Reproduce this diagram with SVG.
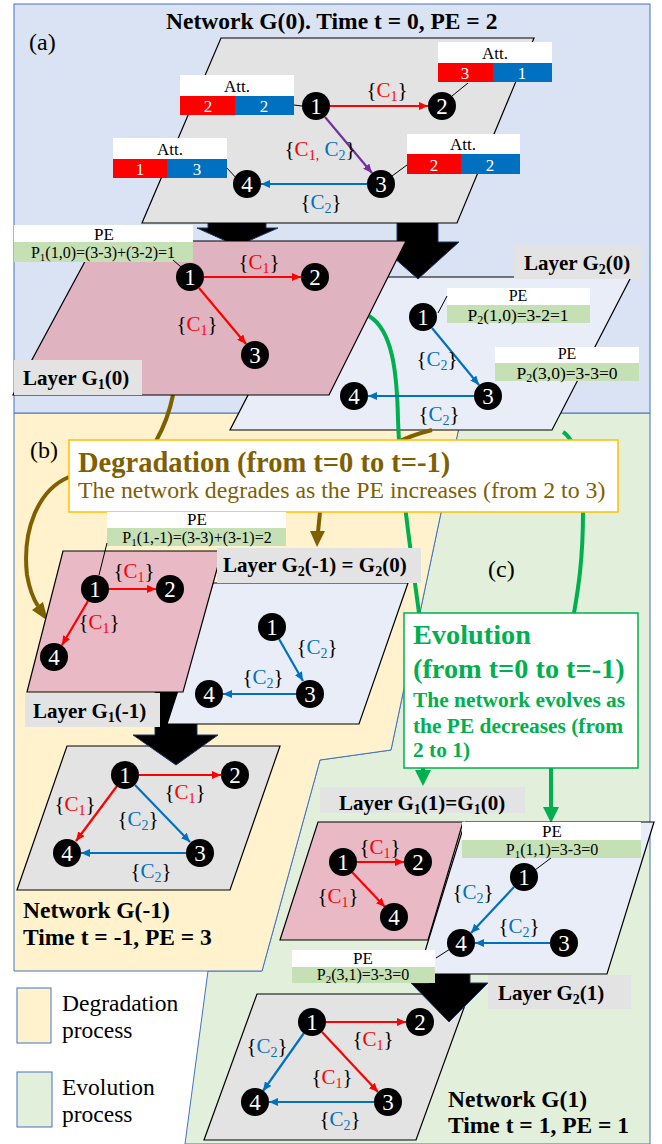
<svg xmlns="http://www.w3.org/2000/svg" width="662" height="1144" viewBox="0 0 662 1144">
<defs>
<style>
text{font-family:"Liberation Serif","Times New Roman",serif}
.nt{fill:#fff;font-size:23px;text-anchor:middle}
.el{font-size:21px;text-anchor:middle;fill:#000}
.r{fill:#f00}
.b{fill:#0070c0}
.sb{font-size:14px}
.ly{stroke:#000;stroke-width:1.2}
.gr{fill:#e3e3e3}
.pk{fill:#dfb4c0}
.pk2{fill:#e9bac6}
.lv{fill:#e9edf7}
.lab{fill:#e3e3e3}
.lt{font-size:21px;font-weight:bold}
.lts{font-size:14px;font-weight:bold}
.er{stroke:#f00;stroke-width:2.2;fill:none;marker-end:url(#ar)}
.eb{stroke:#0070c0;stroke-width:2.2;fill:none;marker-end:url(#ab)}
.ep{stroke:#7030a0;stroke-width:2.2;fill:none;marker-end:url(#ap)}
.pe{font-size:17px;text-anchor:middle}
.pf{font-size:16px;text-anchor:middle}
.pe2{font-size:16px;text-anchor:middle}
.pf2{font-size:17.5px;text-anchor:middle}
.peg{fill:#c5e0b4}
.att{font-size:17px;text-anchor:middle}
.big{fill:#000;stroke:#203864;stroke-width:1}
.lk{stroke:#000;stroke-width:1;fill:none}
.gc{stroke:#00b050;stroke-width:4;fill:none}
.bc{stroke:#7f6000;stroke-width:4;fill:none}
.reg{stroke:#4472c4;stroke-width:1}
.ttl{font-size:23.5px;font-weight:bold}
</style>
<marker id="ar" markerUnits="userSpaceOnUse" markerWidth="9" markerHeight="8" refX="9" refY="4" orient="auto"><path d="M0,0L9,4L0,8z" fill="#f00"/></marker>
<marker id="ab" markerUnits="userSpaceOnUse" markerWidth="9" markerHeight="8" refX="9" refY="4" orient="auto"><path d="M0,0L9,4L0,8z" fill="#0070c0"/></marker>
<marker id="ap" markerUnits="userSpaceOnUse" markerWidth="9" markerHeight="8" refX="9" refY="4" orient="auto"><path d="M0,0L9,4L0,8z" fill="#7030a0"/></marker>
</defs>

<!-- background regions -->
<g id="regions">
<path class="reg" fill="#e2efda" d="M462,413L650,413L650,1144L185,1144L208,971L262,971L320,760L391,750Z"/>
<path class="reg" fill="#fff2cc" d="M14,413L462,413L391,750L320,760L262,971L14,971Z"/>
<rect class="reg" x="14" y="4" width="636" height="409" fill="#dae3f3"/>
</g>

<g id="legend">
<rect class="reg" x="17" y="988" width="34" height="55" fill="#fff2cc"/>
<rect class="reg" x="17" y="1072" width="35" height="55" fill="#e2efda"/>
<text x="62" y="1011" font-size="23.5">Degradation</text>
<text x="62" y="1038" font-size="23.5">process</text>
<text x="62" y="1095" font-size="23.5">Evolution</text>
<text x="62" y="1122" font-size="23.5">process</text>
</g>

<text x="29" y="50" font-size="24">(a)</text>
<text x="30" y="458" font-size="24">(b)</text>
<text x="488" y="577" font-size="24">(c)</text>

<!-- Layer G2(0) -->
<g id="layerG2_0">
<polygon class="ly lv" points="309,277 631,277 552,430 230,430"/>
</g>

<g id="curves">
<path class="gc" d="M369,316C392,330 397,370 398,420C400,480 412,560 419,613"/>
<path class="gc" d="M563,432C576,440 583,470 583,513C583,560 578,590 574,613"/>
<path class="bc" d="M173,395C170,410 165,425 156,441"/>
<path class="bc" d="M432,430C420,433 410,436 398,442"/>
<path class="bc" d="M69,477C38,490 22,530 27,575C30,592 34,600 38,606"/>
<polygon fill="#7f6000" points="32,610 43,602 48,621"/>
<path class="bc" d="M320,512L318,532"/>
<polygon fill="#7f6000" points="310,531 325,531 317,547"/>
<path class="gc" d="M423,768L423,772"/>
<polygon fill="#00b050" points="415,770 431,770 423,786"/>
<path class="gc" d="M551,768L551,808"/>
<polygon fill="#00b050" points="543,807 559,807 551,823"/>
</g>

<g id="bigarrows-top">
<polygon class="big" points="208,200 266,200 266,228 278,228 237,246 197,228 208,228"/>
<polygon class="big" points="397,200 438,200 438,242 459,242 418,279 376,242 397,242"/>
</g>

<!-- Layer G1(0) -->
<g id="layerG1_0">
<polygon class="ly pk" points="96,241 406,241 329,395 13,395"/>
</g>

<!-- Network G(0) -->
<g id="networkG0">
<polygon class="ly gr" points="221,38 534,38 457,223 142,223"/>
</g>
<text class="ttl" x="166" y="29">Network G(0). Time t = 0, PE = 2</text>

<!-- G(0) attributes -->
<g id="att1">
<rect x="180" y="75" width="114" height="21" fill="#fff"/>
<rect x="180" y="96" width="55" height="19" fill="#f00"/>
<rect x="235" y="96" width="59" height="19" fill="#0070c0"/>
<text class="att" x="237" y="92">Att.</text>
<text class="att" x="208" y="112" fill="#fff">2</text>
<text class="att" x="264" y="112" fill="#fff">2</text>
<line class="lk" x1="294" y1="105" x2="302" y2="106"/>
</g>
<g id="att4">
<rect x="113" y="138" width="114" height="21" fill="#fff"/>
<rect x="113" y="159" width="54" height="19" fill="#f00"/>
<rect x="167" y="159" width="60" height="19" fill="#0070c0"/>
<text class="att" x="170" y="155">Att.</text>
<text class="att" x="140" y="175" fill="#fff">1</text>
<text class="att" x="197" y="175" fill="#fff">3</text>
<line class="lk" x1="227" y1="168" x2="238" y2="180"/>
</g>
<g id="att2">
<rect x="438" y="42" width="114" height="21" fill="#fff"/>
<rect x="438" y="63" width="55" height="19" fill="#f00"/>
<rect x="493" y="63" width="59" height="19" fill="#0070c0"/>
<text class="att" x="495" y="59">Att.</text>
<text class="att" x="465" y="79" fill="#fff">3</text>
<text class="att" x="522" y="79" fill="#fff">1</text>
<line class="lk" x1="468" y1="83" x2="452" y2="96"/>
</g>
<g id="att3">
<rect x="407" y="134" width="113" height="20" fill="#fff"/>
<rect x="407" y="154" width="54" height="20" fill="#f00"/>
<rect x="461" y="154" width="59" height="20" fill="#0070c0"/>
<text class="att" x="463" y="150">Att.</text>
<text class="att" x="434" y="171" fill="#fff">2</text>
<text class="att" x="490" y="171" fill="#fff">2</text>
<line class="lk" x1="407" y1="165" x2="392" y2="176"/>
</g>

<!-- PE boxes top -->
<g id="pe-g1-0">
<rect x="14" y="225" width="179" height="17" fill="#fff"/>
<rect class="peg" x="14" y="242" width="179" height="20"/>
<text class="pe" x="104" y="240">PE</text>
<text class="pf" x="103" y="258">P<tspan font-size="11" dy="3">1</tspan><tspan dy="-3">(1,0)=(3-3)+(3-2)=1</tspan></text>
<line class="lk" x1="173" y1="260" x2="181" y2="267"/>
</g>
<g id="pe-g2-0a">
<rect x="447" y="288" width="143" height="17" fill="#fff"/>
<rect class="peg" x="447" y="305" width="143" height="18"/>
<text class="pe2" x="518" y="301">PE</text>
<text class="pf2" x="518" y="321">P<tspan font-size="12" dy="3">2</tspan><tspan dy="-3">(1,0)=3-2=1</tspan></text>
<line class="lk" x1="438" y1="313" x2="447" y2="296"/>
</g>
<g id="pe-g2-0b">
<rect x="495" y="347" width="144" height="16" fill="#fff"/>
<rect class="peg" x="495" y="363" width="144" height="18"/>
<text class="pe2" x="567" y="359">PE</text>
<text class="pf2" x="567" y="379">P<tspan font-size="12" dy="3">2</tspan><tspan dy="-3">(3,0)=3-3=0</tspan></text>
</g>

<!-- Layer labels top -->
<g id="lbl-g1-0"><rect class="lab" x="14" y="360" width="128" height="35"/><text class="lt" x="23" y="385">Layer G<tspan class="lts" dy="4">1</tspan><tspan dy="-4">(0)</tspan></text></g>
<g id="lbl-g2-0"><rect class="lab" x="514" y="245" width="127" height="34"/><text class="lt" x="524" y="270">Layer G<tspan class="lts" dy="4">2</tspan><tspan dy="-4">(0)</tspan></text></g>

<!-- connectors (edges) -->
<g id="connectors">
<line class="er" x1="330" y1="106" x2="428" y2="106"/>
<line class="ep" x1="325" y1="117" x2="372" y2="173"/>
<line class="eb" x1="367" y1="184" x2="261" y2="184"/>
<line class="er" x1="204" y1="277" x2="301" y2="277"/>
<line class="er" x1="199" y1="288" x2="246" y2="344"/>
<line class="eb" x1="432" y1="328" x2="479" y2="385"/>
<line class="eb" x1="474" y1="396" x2="368" y2="396"/>
</g>

<g id="edge-labels-top">
<text class="el" x="387" y="97">{<tspan class="r">C</tspan><tspan class="r sb" dy="4">1</tspan><tspan dy="-4">}</tspan></text>
<text class="el" x="320" y="156">{<tspan class="r">C</tspan><tspan class="r sb" dy="4">1,</tspan><tspan class="b" dy="-4"> C</tspan><tspan class="b sb" dy="4">2</tspan><tspan dy="-4">}</tspan></text>
<text class="el" x="321" y="209">{<tspan class="b">C</tspan><tspan class="b sb" dy="4">2</tspan><tspan dy="-4">}</tspan></text>
<text class="el" x="259" y="269">{<tspan class="r">C</tspan><tspan class="r sb" dy="4">1</tspan><tspan dy="-4">}</tspan></text>
<text class="el" x="197" y="331">{<tspan class="r">C</tspan><tspan class="r sb" dy="4">1</tspan><tspan dy="-4">}</tspan></text>
<text class="el" x="437" y="366">{<tspan class="b">C</tspan><tspan class="b sb" dy="4">2</tspan><tspan dy="-4">}</tspan></text>
<text class="el" x="439" y="421">{<tspan class="b">C</tspan><tspan class="b sb" dy="4">2</tspan><tspan dy="-4">}</tspan></text>
</g>

<!-- nodes top -->
<g id="g0-n1"><circle cx="316" cy="106" r="14"/><text class="nt" x="316" y="114">1</text></g>
<g id="g0-n2"><circle cx="442" cy="106" r="14"/><text class="nt" x="442" y="114">2</text></g>
<g id="g0-n3"><circle cx="381" cy="184" r="14"/><text class="nt" x="381" y="192">3</text></g>
<g id="g0-n4"><circle cx="247" cy="184" r="14"/><text class="nt" x="247" y="192">4</text></g>
<g id="g10-n1"><circle cx="190" cy="277" r="14"/><text class="nt" x="190" y="285">1</text></g>
<g id="g10-n2"><circle cx="315" cy="277" r="14"/><text class="nt" x="315" y="285">2</text></g>
<g id="g10-n3"><circle cx="255" cy="355" r="14"/><text class="nt" x="255" y="363">3</text></g>
<g id="g20-n1"><circle cx="423" cy="317" r="14"/><text class="nt" x="423" y="325">1</text></g>
<g id="g20-n3"><circle cx="488" cy="396" r="14"/><text class="nt" x="488" y="404">3</text></g>
<g id="g20-n4"><circle cx="354" cy="396" r="14"/><text class="nt" x="354" y="404">4</text></g>

<!-- Degradation box -->
<g id="degradation">
<rect x="69" y="440" width="549" height="72" fill="#fff" stroke="#ffc000" stroke-width="1.5"/>
<text x="78" y="472" font-size="28.5" font-weight="bold" fill="#7f6000">Degradation (from t=0 to t=-1)</text>
<text x="78" y="498" font-size="23.8" fill="#7f6000">The network degrades as the PE increases (from 2 to 3)</text>
</g>

<!-- Evolution box -->
<g id="evolution">
<rect x="404" y="613" width="234" height="155" fill="#fff" stroke="#00b050" stroke-width="1.5"/>
<text x="413" y="644" font-size="28.3" font-weight="bold" fill="#00b050">Evolution</text>
<text x="413" y="678" font-size="28.3" font-weight="bold" fill="#00b050">(from t=0 to t=-1)</text>
<text x="413" y="707" font-size="21.4" font-weight="bold" fill="#00b050">The network evolves as</text>
<text x="413" y="733" font-size="21.4" font-weight="bold" fill="#00b050">the PE decreases (from</text>
<text x="413" y="757" font-size="21.4" font-weight="bold" fill="#00b050">2 to 1)</text>
</g>

<!-- Middle section: G(-1) -->
<g id="networkGm1"><polygon class="ly gr" points="67,746 280,746 230,890 17,890"/></g>
<polygon class="big" points="155,690 197,690 197,735 218,735 176,765 133,735 155,735"/>
<g id="layerG2_m1"><polygon class="ly lv" points="213,583 408,583 359,724 167,724"/></g>
<g id="layerG1_m1"><polygon class="ly pk2" points="63,551 222,551 183,692 27,692"/></g>

<g id="lbl-g2-m1"><rect class="lab" x="217" y="548" width="204" height="35"/><text class="lt" x="223" y="572">Layer G<tspan class="lts" dy="4">2</tspan><tspan dy="-4">(-1) = G</tspan><tspan class="lts" dy="4">2</tspan><tspan dy="-4">(0)</tspan></text></g>
<g id="lbl-g1-m1"><rect class="lab" x="25" y="693" width="135" height="34"/><text class="lt" x="33" y="718">Layer G<tspan class="lts" dy="4">1</tspan><tspan dy="-4">(-1)</tspan></text></g>

<g id="pe-g1-m1">
<rect x="107" y="512" width="179" height="16" fill="#fff"/>
<rect class="peg" x="107" y="528" width="179" height="18"/>
<text class="pe" x="197" y="525">PE</text>
<text class="pf" x="197" y="543">P<tspan font-size="11" dy="3">1</tspan><tspan dy="-3">(1,-1)=(3-3)+(3-1)=2</tspan></text>
<line class="lk" x1="107" y1="543" x2="99" y2="575"/>
</g>

<g id="connectors-mid">
<line class="er" x1="109" y1="589" x2="156" y2="589"/>
<line class="er" x1="88" y1="601" x2="62" y2="645"/>
<line class="eb" x1="279" y1="639" x2="303" y2="681"/>
<line class="eb" x1="296" y1="694" x2="223" y2="694"/>
<line class="er" x1="139" y1="775" x2="221" y2="775"/>
<line class="er" x1="117" y1="786" x2="76" y2="841"/>
<line class="eb" x1="135" y1="785" x2="190" y2="842"/>
<line class="eb" x1="186" y1="853" x2="81" y2="853"/>
</g>
<g id="edge-labels-mid">
<text class="el" x="134" y="578">{<tspan class="r">C</tspan><tspan class="r sb" dy="4">1</tspan><tspan dy="-4">}</tspan></text>
<text class="el" x="99" y="629">{<tspan class="r">C</tspan><tspan class="r sb" dy="4">1</tspan><tspan dy="-4">}</tspan></text>
<text class="el" x="317" y="654">{<tspan class="b">C</tspan><tspan class="b sb" dy="4">2</tspan><tspan dy="-4">}</tspan></text>
<text class="el" x="263" y="684">{<tspan class="b">C</tspan><tspan class="b sb" dy="4">2</tspan><tspan dy="-4">}</tspan></text>
<text class="el" x="185" y="799">{<tspan class="r">C</tspan><tspan class="r sb" dy="4">1</tspan><tspan dy="-4">}</tspan></text>
<text class="el" x="75" y="811">{<tspan class="r">C</tspan><tspan class="r sb" dy="4">1</tspan><tspan dy="-4">}</tspan></text>
<text class="el" x="138" y="826">{<tspan class="b">C</tspan><tspan class="b sb" dy="4">2</tspan><tspan dy="-4">}</tspan></text>
<text class="el" x="151" y="878">{<tspan class="b">C</tspan><tspan class="b sb" dy="4">2</tspan><tspan dy="-4">}</tspan></text>
</g>
<g id="g1m1-n1"><circle cx="95" cy="589" r="14"/><text class="nt" x="95" y="597">1</text></g>
<g id="g1m1-n2"><circle cx="170" cy="589" r="14"/><text class="nt" x="170" y="597">2</text></g>
<g id="g1m1-n4"><circle cx="54" cy="657" r="14"/><text class="nt" x="54" y="665">4</text></g>
<g id="g2m1-n1"><circle cx="272" cy="627" r="14"/><text class="nt" x="272" y="635">1</text></g>
<g id="g2m1-n3"><circle cx="310" cy="694" r="14"/><text class="nt" x="310" y="702">3</text></g>
<g id="g2m1-n4"><circle cx="209" cy="694" r="14"/><text class="nt" x="209" y="702">4</text></g>
<g id="gm1-n1"><circle cx="125" cy="775" r="14"/><text class="nt" x="125" y="783">1</text></g>
<g id="gm1-n2"><circle cx="235" cy="775" r="14"/><text class="nt" x="235" y="783">2</text></g>
<g id="gm1-n3"><circle cx="200" cy="853" r="14"/><text class="nt" x="200" y="861">3</text></g>
<g id="gm1-n4"><circle cx="67" cy="853" r="14"/><text class="nt" x="67" y="861">4</text></g>
<text class="ttl" x="23" y="918">Network G(-1)</text>
<text class="ttl" x="23" y="945">Time t = -1, PE = 3</text>

<!-- Bottom section: G(1) -->
<g id="networkG1"><polygon class="ly gr" points="257,994 469,994 416,1140 204,1140"/></g>
<polygon class="big" points="429,940 470,940 470,983 488,983 449,1022 411,983 429,983"/>
<g id="layerG1_1"><polygon class="ly pk2" points="318,822 463,822 428,940 280,940"/></g>
<g id="layerG2_1"><polygon class="ly lv" points="465,822 654,822 607,974 418,974"/></g>

<g id="lbl-g1-1"><rect class="lab" x="320" y="787" width="205" height="26"/><text class="lt" x="339" y="810">Layer G<tspan class="lts" dy="4">1</tspan><tspan dy="-4">(1)=G</tspan><tspan class="lts" dy="4">1</tspan><tspan dy="-4">(0)</tspan></text></g>
<g id="lbl-g2-1"><rect class="lab" x="488" y="975" width="143" height="34"/><text class="lt" x="498" y="1000">Layer G<tspan class="lts" dy="4">2</tspan><tspan dy="-4">(1)</tspan></text></g>

<g id="pe-g2-1">
<rect x="462" y="822" width="179" height="18" fill="#fff"/>
<rect class="peg" x="462" y="840" width="179" height="18"/>
<text class="pe" x="552" y="837">PE</text>
<text class="pf" x="552" y="855">P<tspan font-size="11" dy="3">1</tspan><tspan dy="-3">(1,1)=3-3=0</tspan></text>
<line class="lk" x1="551" y1="858" x2="535" y2="870"/>
</g>
<g id="pe-g-1">
<rect x="292" y="950" width="143" height="17" fill="#fff"/>
<rect class="peg" x="292" y="967" width="143" height="16"/>
<text class="pe" x="363" y="964">PE</text>
<text class="pf" x="363" y="980">P<tspan font-size="11" dy="3">2</tspan><tspan dy="-3">(3,1)=3-3=0</tspan></text>
<line class="lk" x1="436" y1="958" x2="450" y2="949"/>
</g>

<g id="connectors-bot">
<line class="er" x1="357" y1="862" x2="404" y2="862"/>
<line class="er" x1="352" y1="872" x2="385" y2="907"/>
<line class="eb" x1="514" y1="887" x2="471" y2="933"/>
<line class="eb" x1="550" y1="943" x2="475" y2="943"/>
<line class="er" x1="326" y1="1022" x2="406" y2="1022"/>
<line class="er" x1="322" y1="1032" x2="378" y2="1092"/>
<line class="eb" x1="304" y1="1033" x2="263" y2="1091"/>
<line class="eb" x1="374" y1="1102" x2="269" y2="1102"/>
</g>
<g id="edge-labels-bot">
<text class="el" x="380" y="854">{<tspan class="r">C</tspan><tspan class="r sb" dy="4">1</tspan><tspan dy="-4">}</tspan></text>
<text class="el" x="338" y="903">{<tspan class="r">C</tspan><tspan class="r sb" dy="4">1</tspan><tspan dy="-4">}</tspan></text>
<text class="el" x="473" y="899">{<tspan class="b">C</tspan><tspan class="b sb" dy="4">2</tspan><tspan dy="-4">}</tspan></text>
<text class="el" x="519" y="933">{<tspan class="b">C</tspan><tspan class="b sb" dy="4">2</tspan><tspan dy="-4">}</tspan></text>
<text class="el" x="373" y="1046">{<tspan class="r">C</tspan><tspan class="r sb" dy="4">1</tspan><tspan dy="-4">}</tspan></text>
<text class="el" x="332" y="1084">{<tspan class="r">C</tspan><tspan class="r sb" dy="4">1</tspan><tspan dy="-4">}</tspan></text>
<text class="el" x="267" y="1053">{<tspan class="b">C</tspan><tspan class="b sb" dy="4">2</tspan><tspan dy="-4">}</tspan></text>
<text class="el" x="340" y="1126">{<tspan class="b">C</tspan><tspan class="b sb" dy="4">2</tspan><tspan dy="-4">}</tspan></text>
</g>
<g id="g11-n1"><circle cx="343" cy="862" r="14"/><text class="nt" x="343" y="870">1</text></g>
<g id="g11-n2"><circle cx="418" cy="862" r="14"/><text class="nt" x="418" y="870">2</text></g>
<g id="g11-n4"><circle cx="394" cy="917" r="14"/><text class="nt" x="394" y="925">4</text></g>
<g id="g21-n1"><circle cx="524" cy="877" r="14"/><text class="nt" x="524" y="885">1</text></g>
<g id="g21-n3"><circle cx="564" cy="943" r="14"/><text class="nt" x="564" y="951">3</text></g>
<g id="g21-n4"><circle cx="461" cy="943" r="14"/><text class="nt" x="461" y="951">4</text></g>
<g id="g1-n1"><circle cx="312" cy="1022" r="14"/><text class="nt" x="312" y="1030">1</text></g>
<g id="g1-n2"><circle cx="420" cy="1022" r="14"/><text class="nt" x="420" y="1030">2</text></g>
<g id="g1-n3"><circle cx="388" cy="1102" r="14"/><text class="nt" x="388" y="1110">3</text></g>
<g id="g1-n4"><circle cx="255" cy="1102" r="14"/><text class="nt" x="255" y="1110">4</text></g>
<text class="ttl" x="448" y="1107">Network G(1)</text>
<text class="ttl" x="448" y="1133">Time t = 1, PE = 1</text>
</svg>
